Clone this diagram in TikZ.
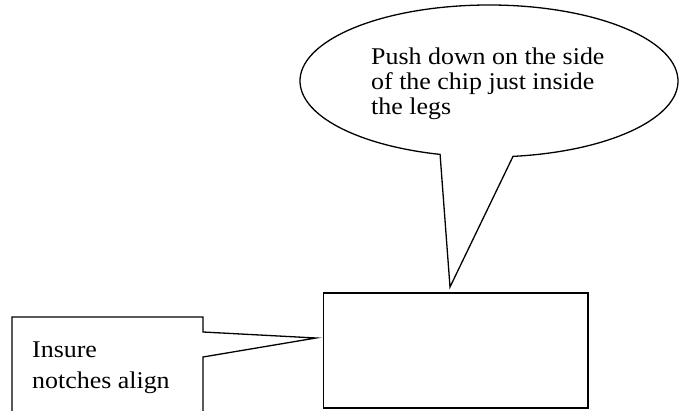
\documentclass[tikz,border=0pt]{standalone}
\usepackage{fontspec}
\setmainfont{Liberation Serif}
\begin{document}
\begin{tikzpicture}[x=1pt,y=1pt,
  outline/.style={draw=black, line width=1.3pt, line join=miter},
  lbl/.style={anchor=base west, inner sep=0pt, font=\fontsize{24}{28}\selectfont}]
\useasboundingbox (0,0) rectangle (679,410);
\begin{scope}
\clip (0,0) rectangle (679,410);
% chip rectangle
\node[outline, minimum width=264.5pt, minimum height=115pt, inner sep=0pt] (chip) at (455.75,59.5) {};
\coordinate (tipTop) at (450,123);
\coordinate (tipLeft) at (316,72);
% ellipse callout
\draw[outline, fill=white] (489,329) ++(277.3:189 and 76)
  arc[start angle=277.3, end angle=615, x radius=189, y radius=76]
  -- (tipTop) -- cycle;
% rectangle callout
\draw[outline] (12,-10) -- (12,93) -- (203,93) -- (203,78) -- (tipLeft)
  -- (203,53) -- (203,-10);
% texts
\node[lbl] (t1) at (371,345) {\scalebox{1.08}[1]{Push down on the side}};
\node[lbl] (t2) at (371,320) {\scalebox{1.08}[1]{of the chip just inside}};
\node[lbl] (t3) at (371,295) {\scalebox{1.08}[1]{the legs}};
\node[lbl] (l1) at (32,53) {\scalebox{1.08}[1]{Insure}};
\node[lbl] (l2) at (32,22) {\scalebox{1.08}[1]{notches align}};
\end{scope}
\end{tikzpicture}
\end{document}
